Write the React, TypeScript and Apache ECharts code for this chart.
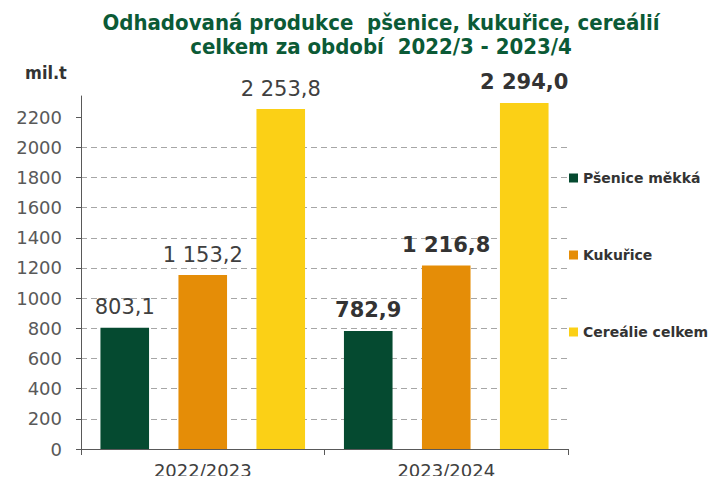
import React, { useEffect, useRef } from "react";
import * as echarts from "echarts";

const categories = ["2022/2023", "2023/2024"];
const seriesNames = ["Pšenice měkká", "Kukuřice", "Cereálie celkem"];
const wheat = [803.1, 782.9];
const maize = [1153.2, 1216.8];
const cereals = [2253.8, 2294.0];
const yTicks = [0, 200, 400, 600, 800, 1000, 1200, 1400, 1600, 1800, 2000, 2200];
const colors = ["#054a30", "#e58d07", "#fbd016"];

const fmt = (v: number) => {
  const [i, d] = v.toFixed(1).split(".");
  return i.replace(/\B(?=(\d{3})+(?!\d))/g, " ") + "," + d;
};

export default function App() {
  const ref = useRef<HTMLDivElement>(null);
  useEffect(() => {
    if (!ref.current) return;
    const chart = echarts.init(ref.current, undefined, { renderer: "svg" });
    const mk = (name: string, vals: number[], color: string) => ({
      name,
      type: "bar",
      barWidth: 48.6,
      barGap: "60.5%",
      itemStyle: { color },
      data: vals.map((v, i) => ({
        value: v,
        label: i === 0
          ? { fontWeight: "normal", color: "#404040" }
          : { fontWeight: "bold", color: "#333333" },
      })),
      label: {
        show: true,
        position: "top",
        distance: 10,
        fontFamily: "DejaVu Sans",
        fontSize: 21,
        formatter: (p: any) => fmt(p.value),
      },
    });
    chart.setOption({
      animation: false,
      title: {
        text: "Odhadovaná produkce  pšenice, kukuřice, cereálií\ncelkem za období  2022/3 - 2023/4",
        left: 376,
        textAlign: "center",
        top: 5,
        textStyle: {
          fontFamily: "DejaVu Sans Condensed, DejaVu Sans",
          fontWeight: "bold",
          fontSize: 22,
          lineHeight: 24,
          color: "#0b5a36",
        },
      },
      graphic: [
        {
          type: "text",
          left: 25,
          top: 63,
          style: {
            text: "mil.t",
            fontFamily: "DejaVu Sans Condensed, DejaVu Sans",
            fontWeight: "bold",
            fontSize: 18,
            fill: "#333333",
          },
        },
      ],
      legend: {
        orient: "vertical",
        left: 569,
        top: 170,
        padding: 0,
        itemWidth: 9,
        itemHeight: 9,
        itemGap: 61,
        icon: "rect",
        textStyle: {
          fontFamily: "DejaVu Sans",
          fontWeight: "bold",
          fontSize: 14,
          lineHeight: 16,
          color: "#333333",
        },
        data: seriesNames,
      },
      grid: { left: 81, right: 155, top: 96, bottom: 35 },
      xAxis: {
        type: "category",
        data: categories,
        axisLine: { lineStyle: { color: "#595959", width: 1 } },
        axisTick: { show: true, length: 6, lineStyle: { color: "#595959" } },
        axisLabel: {
          fontFamily: "DejaVu Sans",
          fontSize: 18,
          color: "#404040",
          margin: 12,
        },
      },
      yAxis: {
        type: "value",
        min: 0,
        max: 2340,
        interval: 200,
        axisLine: { show: true, lineStyle: { color: "#595959", width: 1 } },
        axisTick: {
          show: true,
          length: 5,
          customValues: yTicks,
          lineStyle: { color: "#595959" },
        },
        axisLabel: {
          fontFamily: "DejaVu Sans",
          fontSize: 18,
          color: "#595959",
          margin: 19,
          customValues: yTicks,
          formatter: (v: number) => String(v),
        },
        splitLine: {
          show: true,
          showMaxLine: false,
          lineStyle: { color: "#a6a6a6", type: [6, 4], width: 1 },
        },
      },
      series: [
        mk(seriesNames[0], wheat, colors[0]),
        mk(seriesNames[1], maize, colors[1]),
        mk(seriesNames[2], cereals, colors[2]),
      ],
    });
    return () => chart.dispose();
  }, []);
  return <div ref={ref} style={{ width: 723, height: 484, margin: -8 }} />;
}
